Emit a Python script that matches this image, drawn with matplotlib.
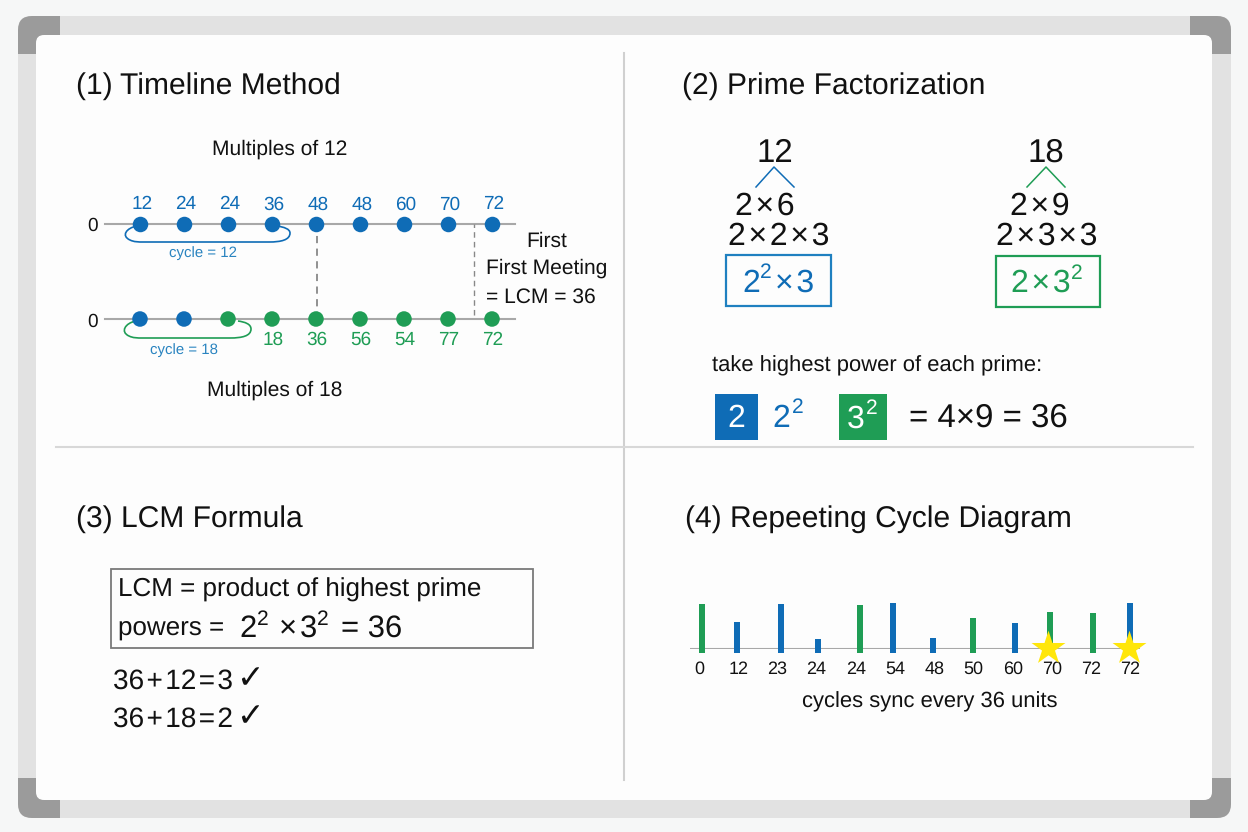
import matplotlib
matplotlib.use('Agg')
import matplotlib.pyplot as plt
from matplotlib.patches import FancyBboxPatch, Rectangle, PathPatch
from matplotlib.path import Path

plt.rcParams['font.family'] = ['Liberation Sans', 'DejaVu Sans']
plt.rcParams['text.hinting'] = 'no_hinting'
plt.rcParams['text.hinting_factor'] = 1

BLUE = '#0f6cb6'
GREEN = '#1f9d55'
W, H = 1248, 832

# timeline data
top_labels = ['12', '24', '24', '36', '48', '48', '60', '70', '72']
bottom_labels = ['18', '36', '56', '54', '77', '72']
bottom_dot_colors = [BLUE, BLUE, GREEN, GREEN, GREEN, GREEN, GREEN, GREEN, GREEN]

# repeating cycle data
cycle_labels = ['0', '12', '23', '24', '24', '54', '48', '50', '60', '70', '72', '72']
cycle_pos = [0.08, 0.97, 2.09, 3.04, 4.11, 4.95, 5.97, 6.99, 8.06, 8.95, 10.05, 11.0]
cycle_heights = [45, 27, 45, 10, 44, 46, 11, 31, 26, 37, 36, 46]
cycle_colors = ['g', 'b', 'b', 'b', 'g', 'b', 'b', 'g', 'b', 'g', 'g', 'b']
star_idx = [9, 11]

fig = plt.figure(figsize=(W / 100, H / 100), dpi=100, facecolor='#f6f7f7')
bg = fig.add_axes([0, 0, 1, 1])
bg.set_xlim(0, W)
bg.set_ylim(H, 0)
bg.axis('off')


def T(x, y, s, fs, color='#111111', ha='center', **kw):
    return bg.text(x, y + 1.5, s, fontsize=fs, color=color, ha=ha, va='center', **kw)


def px_axes(x0, y0, x1, y1):
    ax = fig.add_axes([x0 / W, 1 - y1 / H, (x1 - x0) / W, (y1 - y0) / H])
    ax.patch.set_alpha(0)
    return ax


# whiteboard frame
def frame(color, z):
    return FancyBboxPatch((24, 22), 1201, 790, boxstyle='round,pad=6,rounding_size=14',
                          fc=color, ec='none', zorder=z)


bg.add_patch(frame('#e2e2e2', 1))
for cx, cy_, cw, ch in [(14, 12, 46, 42), (1190, 12, 46, 42), (14, 778, 46, 44), (1190, 778, 46, 44)]:
    p = frame('#9b9b9b', 2)
    bg.add_patch(p)
    p.set_clip_path(Rectangle((cx, cy_), cw, ch, transform=bg.transData))
bg.add_patch(FancyBboxPatch((42, 41), 1164, 753, boxstyle='round,pad=6,rounding_size=8',
                            fc='#fdfdfd', ec='none', zorder=3))
bg.plot([624, 624], [53, 780], color='#d0d0d0', lw=1.5, zorder=4)
bg.plot([56, 1193], [447, 447], color='#d8d8d8', lw=1.5, zorder=4)

# panel titles
T(76, 85, '(1) Timeline Method', 21.3, ha='left')
T(682, 85, '(2) Prime Factorization', 21.3, ha='left')
T(76, 518, '(3) LCM Formula', 21.3, ha='left')
T(685, 518, '(4) Repeeting Cycle Diagram', 21.3, ha='left')

# panel 1: timeline
tl = px_axes(105, 224, 515, 319)
tl.set_xlim((105 - 140) / 44, (515 - 140) / 44)
tl.set_ylim(0, 1)
tl.axis('off')
xs = list(range(len(top_labels)))
tl.plot([tl.get_xlim()[0], tl.get_xlim()[1]], [1, 1], color='#a8a8a8', lw=1.5, clip_on=False, zorder=1)
tl.plot([tl.get_xlim()[0], tl.get_xlim()[1]], [0, 0], color='#a8a8a8', lw=1.5, clip_on=False, zorder=1)
tl.scatter(xs, [1] * len(xs), s=125, color=BLUE, clip_on=False, zorder=3, lw=0)
tl.scatter(xs, [0] * len(xs), s=125, color=bottom_dot_colors, clip_on=False, zorder=3, lw=0)
for i, lab in enumerate(top_labels):
    tl.annotate(lab, (i, 1), xytext=(1.5, 14), textcoords='offset points', ha='center', va='center',
                fontsize=14, color=BLUE)
for i, lab in enumerate(bottom_labels):
    tl.annotate(lab, (i + 3, 0), xytext=(0.5, -15), textcoords='offset points', ha='center', va='center',
                fontsize=14, color=GREEN)
tl.plot([4.03, 4.03], [0, 1], color='#888888', lw=1.3, ls=(0, (4, 3)), zorder=2)
tl.plot([7.6, 7.6], [0.04, 1], color='#888888', lw=1, ls=(0, (4, 3)), zorder=2)

T(93, 224, '0', 14)
T(93, 320, '0', 14)
T(280, 148, 'Multiples of 12', 15)
T(275, 389, 'Multiples of 18', 15)
T(547, 240, 'First', 15)
T(486, 267, 'First Meeting', 15.2, ha='left')
T(486, 296, '= LCM = 36', 15.2, ha='left')
T(203, 252, 'cycle = 12', 10.5, color='#2a84c0')
T(184, 349, 'cycle = 18', 10.5, color='#2a84c0')


def loop(x0, x1, y0, y1, color):
    # U-shaped bracket whose ends curl up to the first and last dot
    verts = [(x0 + 13, y0 + 1), (x0 + 2, y0 + 3), (x0 - 3, y1 - 6), (x0 + 6, y1 - 2),
             (x0 + 10, y1), (x0 + 14, y1), (x0 + 20, y1),
             (x1 - 20, y1), (x1 - 8, y1), (x1 + 1, y1 - 2), (x1 + 1, y1 - 9),
             (x1 + 1, y0 + 4), (x1 - 5, y0 + 2), (x1 - 12, y0 + 1)]
    codes = [Path.MOVETO, Path.CURVE4, Path.CURVE4, Path.CURVE4, Path.CURVE4, Path.CURVE4, Path.CURVE4,
             Path.LINETO, Path.CURVE4, Path.CURVE4, Path.CURVE4, Path.CURVE4, Path.CURVE4, Path.CURVE4]
    bg.add_patch(PathPatch(Path(verts, codes), fc='none', ec=color, lw=1.2, zorder=4))


loop(124, 289, 225, 242, BLUE)
loop(123, 250, 320, 338, GREEN)

# panel 2: factor trees
T(775, 152, '12', 24)
T(1046, 152, '18', 24)
bg.plot([756, 774, 794], [187, 167, 187], color=BLUE, lw=1.1, zorder=4)
bg.plot([1027, 1046, 1065], [187, 167, 187], color=GREEN, lw=1.1, zorder=4)
T(765, 205, '2\u200a×\u200a6', 23)
T(779, 235, '2\u200a×\u200a2\u200a×\u200a3', 23)
T(1040, 205, '2\u200a×\u200a9', 23)
T(1047, 235, '2\u200a×\u200a3\u200a×\u200a3', 23)
bg.add_patch(Rectangle((726, 255), 105, 51, fc='none', ec='#1f80c0', lw=1.6, zorder=4))
bg.add_patch(Rectangle((996, 256), 104, 51, fc='none', ec=GREEN, lw=1.6, zorder=4))
T(751, 282, '2', 23, color=BLUE)
T(766, 271, '2', 15, color=BLUE)
T(795, 282, '×\u200a3', 23, color=BLUE)
T(1041, 282, '2\u200a×\u200a3', 23, color=GREEN)
T(1077, 272, '2', 15, color=GREEN)
T(712, 364, 'take highest power of each prime:', 15.5, ha='left')
bg.add_patch(Rectangle((715, 394), 43, 46, fc=BLUE, ec='none', zorder=4))
bg.add_patch(Rectangle((839, 394), 48, 46, fc=GREEN, ec='none', zorder=4))
T(736, 417, '2', 23, color='white', zorder=5)
T(781, 417, '2', 23, color=BLUE)
T(798, 406, '2', 15, color=BLUE)
T(856, 418, '3', 23, color='white', zorder=5)
T(872, 407, '2', 15, color='white', zorder=5)
T(909, 417, '= 4×9 = 36', 24.1, ha='left')

# panel 3: formula
bg.add_patch(Rectangle((111, 569), 422, 79, fc='none', ec='#7a7a7a', lw=1.3, zorder=4))
T(118, 588, 'LCM = product of highest prime', 18.9, ha='left')
T(118, 627, 'powers =', 18.9, ha='left')
T(248, 627, '2', 22)
T(263, 618, '2', 15)
T(288, 627, '×', 22)
T(308, 627, '3', 22)
T(323, 618, '2', 15)
T(341, 627, '= 36', 22, ha='left')
T(113, 680, '36\u200a+\u200a12\u200a=\u200a3', 19.8, ha='left')
T(113, 718, '36\u200a+\u200a18\u200a=\u200a2', 19.8, ha='left')
T(250, 678, '✓', 24)
T(250, 716, '✓', 24)

# panel 4: cycle bars
cy = px_axes(690, 595, 1140, 649)
cy.set_xlim((690 - 699) / 39.2, (1140 - 699) / 39.2)
cy.set_ylim(0, 54)
for s in cy.spines.values():
    s.set_visible(False)
cy.set_yticks([])
cy.set_xticks(range(len(cycle_labels)))
cy.set_xticklabels(cycle_labels, fontsize=13, color='#111111')
cy.tick_params(axis='x', length=0, pad=8.5)
cy.axhline(0, color='#a8a8a8', lw=1.5, zorder=1)
bar_colors = [GREEN if c == 'g' else BLUE for c in cycle_colors]
cy.bar(cycle_pos, [h + 4 for h in cycle_heights], width=0.14, bottom=-4, color=bar_colors,
       clip_on=False, zorder=2)
cy.scatter([cycle_pos[i] - 0.04 for i in star_idx], [1, 1], marker='*', s=660, color='#ffe60a',
           lw=0, clip_on=False, zorder=5)
T(930, 700, 'cycles sync every 36 units', 15.5)

fig.savefig('out.png', dpi=100, facecolor=fig.get_facecolor())
